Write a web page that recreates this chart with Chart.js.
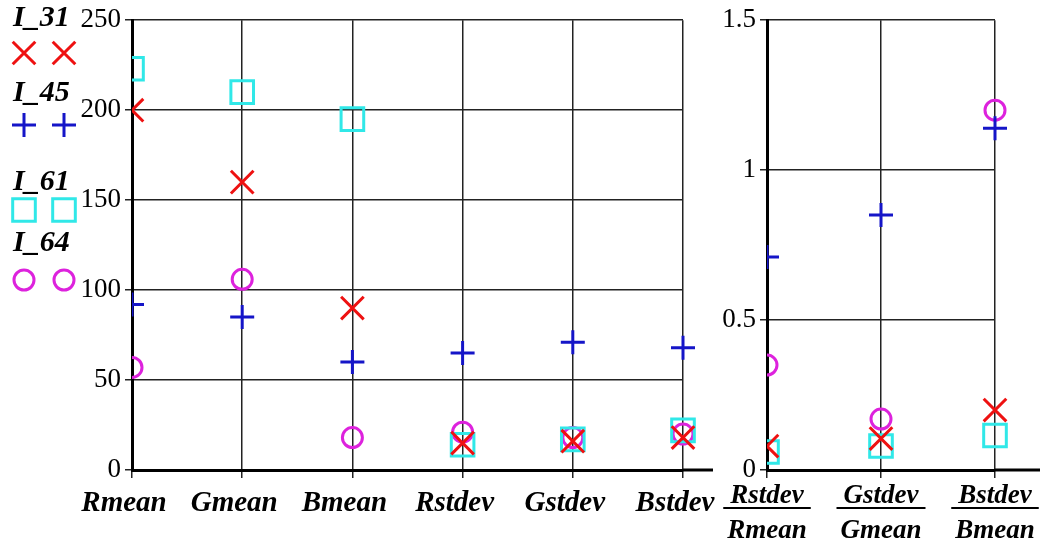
<!DOCTYPE html>
<html>
<head>
<meta charset="utf-8">
<script src="https://cdn.jsdelivr.net/npm/chart.js@4"></script>
<style>
  html, body { margin: 0; padding: 0; background: #fff; }
  #wrap { position: relative; width: 1040px; height: 538px; overflow: hidden; }
  #leftBox { position: absolute; left: 0; top: 0; width: 760px; height: 538px; }
  #rightBox { position: absolute; left: 700px; top: 0; width: 340px; height: 538px; }
</style>
</head>
<body>
<div id="wrap">
  <div id="leftBox"><canvas id="meanChart" width="760" height="538"></canvas></div>
  <div id="rightBox"><canvas id="ratioChart" width="340" height="538"></canvas></div>
</div>
<script>
// categories
const statLabels = ['Rmean', 'Gmean', 'Bmean', 'Rstdev', 'Gstdev', 'Bstdev'];
const ratioLabels = [['Rstdev', 'Rmean'], ['Gstdev', 'Gmean'], ['Bstdev', 'Bmean']];
const seriesNames = ['I_31', 'I_45', 'I_61', 'I_64'];

// left panel values (mean / stdev)
const i31Stats = [200, 160, 90, 15, 16, 18];
const i45Stats = [92, 85, 60, 65, 71, 68];
const i61Stats = [223, 210, 195, 14, 17, 22];
const i64Stats = [57, 106, 18, 21, 18, 20];

// right panel values (stdev / mean)
const i31Ratio = [0.08, 0.105, 0.2];
const i45Ratio = [0.71, 0.85, 1.14];
const i61Ratio = [0.06, 0.08, 0.115];
const i64Ratio = [0.35, 0.17, 1.2];

// ticks
const statTicks = [0, 50, 100, 150, 200, 250];
const ratioTicks = [0, 0.5, 1, 1.5];

const colors = ['#ee1111', '#1515c8', '#30e8e8', '#dd22dd'];
const styles = ['crossRot', 'cross', 'rect', 'circle'];
const radii = [16, 12, 16, 10];

const serif = 'Liberation Serif, Times New Roman, serif';

function makeSets(values) {
    return values.map(function(v, i) {
        return {
            label: seriesNames[i],
            data: v,
            showLine: false,
            pointStyle: styles[i],
            pointRadius: radii[i],
            pointHoverRadius: radii[i],
            pointBorderColor: colors[i],
            pointBackgroundColor: 'rgba(0,0,0,0)',
            pointBorderWidth: 3,
            borderColor: colors[i],
            // only the left edge cuts the markers, as in the original
            clip: { left: 0, top: false, right: false, bottom: false }
        };
    });
}

// extends the bottom axis line past the plot, like the original
const axisTail = {
    id: 'axisTail',
    afterDraw(chart, args, opts) {
        const ctx = chart.ctx, a = chart.chartArea;
        ctx.save();
        ctx.strokeStyle = '#000';
        ctx.lineWidth = 3;
        ctx.beginPath();
        ctx.moveTo(a.right, a.bottom);
        ctx.lineTo(a.right + opts.extra, a.bottom);
        ctx.stroke();
        ctx.restore();
    }
};

// legend at the left: name above two markers
const sideLegend = {
    id: 'sideLegend',
    afterDraw(chart) {
        const ctx = chart.ctx;
        const textY = [18, 93, 182, 243];
        const markY = [53, 125, 210, 280];
        ctx.save();
        ctx.textBaseline = 'middle';
        ctx.textAlign = 'left';
        seriesNames.forEach(function(name, i) {
            ctx.font = 'italic bold 30px ' + serif;
            ctx.fillStyle = '#000';
            ctx.fillText(name, 13, textY[i]);
            ctx.strokeStyle = colors[i];
            ctx.fillStyle = 'rgba(0,0,0,0)';
            ctx.lineWidth = 3;
            [24, 64].forEach(function(x) {
                Chart.helpers.drawPoint(ctx, {pointStyle: styles[i], radius: radii[i], borderWidth: 3, rotation: 0}, x, markY[i]);
            });
        });
        ctx.restore();
    }
};

// fraction bar between the two lines of each right-hand label
const fractionBar = {
    id: 'fractionBar',
    afterDraw(chart) {
        const ctx = chart.ctx, xs = chart.scales.x, a = chart.chartArea;
        ctx.save();
        ctx.font = 'italic bold 27px ' + serif;
        ctx.strokeStyle = '#000';
        ctx.lineWidth = 2;
        ratioLabels.forEach(function(lbl, i) {
            const x = xs.getPixelForTick(i);
            const w = Math.max(ctx.measureText(lbl[0]).width, ctx.measureText(lbl[1]).width) + 8;
            ctx.beginPath();
            ctx.moveTo(x - w / 2, a.bottom + 38);
            ctx.lineTo(x + w / 2, a.bottom + 38);
            ctx.stroke();
        });
        ctx.restore();
    }
};

function baseOptions(yMin, yMax, yWidth, padRight, tail) {
    return {
        responsive: false,
        animation: false,
        layout: { padding: { left: 0, right: padRight, top: 15, bottom: 0 } },
        plugins: {
            legend: { display: false },
            tooltip: { enabled: false },
            axisTail: { extra: tail }
        },
        scales: {
            x: {
                offset: false,
                grid: { color: '#222', lineWidth: 1.5, drawTicks: true, tickLength: 8 },
                border: { color: '#000', width: 3 },
                ticks: {
                    color: '#000',
                    padding: 8,
                    maxRotation: 0,
                    autoSkip: false,
                    font: { family: serif, size: 29, style: 'italic', weight: 'bold', lineHeight: 1.2 }
                },
                afterFit: function(s) { s.height = 68; s.paddingLeft = 0; s.paddingRight = 0; }
            },
            y: {
                min: yMin,
                max: yMax,
                grid: { color: '#222', lineWidth: 1.5, drawTicks: true, tickLength: 7 },
                border: { color: '#000', width: 3 },
                ticks: {
                    color: '#000',
                    padding: 4,
                    font: { family: serif, size: 27 },
                    callback: function(v) { return String(v); }
                },
                afterFit: function(s) { s.width = yWidth; }
            }
        }
    };
}

const meanOpts = baseOptions(0, 250, 132, 77, 30);
meanOpts.scales.y.afterBuildTicks = function(s) { s.ticks = statTicks.map(function(v) { return {value: v}; }); };
meanOpts.scales.x.ticks.labelOffset = -8;

new Chart(document.getElementById('meanChart'), {
    type: 'line',
    data: {
        labels: statLabels,
        datasets: makeSets([i31Stats, i45Stats, i61Stats, i64Stats])
    },
    options: meanOpts,
    plugins: [axisTail, sideLegend]
});

const ratioOpts = baseOptions(0, 1.5, 67, 45, 45);
ratioOpts.scales.y.afterBuildTicks = function(s) { s.ticks = ratioTicks.map(function(v) { return {value: v}; }); };
ratioOpts.scales.x.ticks.padding = 0;
ratioOpts.scales.x.ticks.font = { family: serif, size: 27, style: 'italic', weight: 'bold', lineHeight: 1.3 };

new Chart(document.getElementById('ratioChart'), {
    type: 'line',
    data: {
        labels: ratioLabels,
        datasets: makeSets([i31Ratio, i45Ratio, i61Ratio, i64Ratio])
    },
    options: ratioOpts,
    plugins: [axisTail, fractionBar]
});
</script>
</body>
</html>
